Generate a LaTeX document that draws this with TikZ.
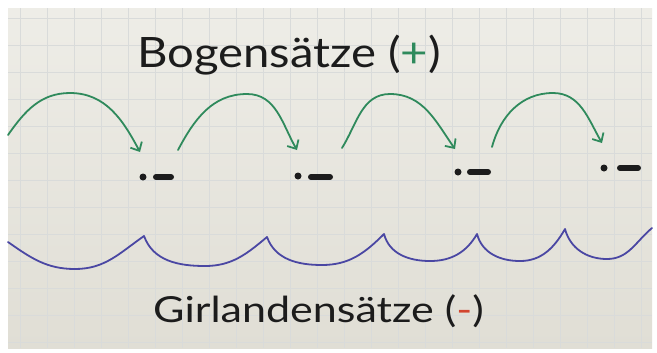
\documentclass[tikz,border=0pt]{standalone}
\usepackage{fontspec}
\setmainfont{Lato}
\usetikzlibrary{arrows.meta}
\definecolor{papertop}{HTML}{EEEDE7}
\definecolor{paperbot}{HTML}{E0DED5}
\definecolor{gridc}{HTML}{D9DBDA}
\definecolor{arcgreen}{HTML}{2F8A5C}
\definecolor{garblue}{HTML}{4A47A3}
\definecolor{inkc}{HTML}{1C1C1C}
\definecolor{minusred}{HTML}{D2452F}
\tikzset{
  greenarc/.style={draw=arcgreen, line width=1.8bp, line cap=round, -{Straight Barb[length=7bp,width=13bp,line width=1.8bp]}},
  garland/.style={draw=garblue, line width=1.8bp, line cap=round, line join=round},
  dotc/.style={circle, fill=inkc, inner sep=0pt, minimum size=7bp},
  dashbar/.style={draw=inkc, line width=6bp, line cap=round},
  lbl/.style={text=inkc, inner sep=0pt},
  gridline/.style={draw=gridc, line width=0.8bp}
}
\begin{document}
\begin{tikzpicture}[x=1bp,y=-1bp]
\useasboundingbox (0,0) rectangle (657,352);
\fill[white] (0,0) rectangle (657,352);
\shade[top color=papertop, bottom color=paperbot] (8,8) rectangle (652,348);
% grid
\foreach \gx in {20,47,...,650} { \draw[gridline] (\gx,8) -- (\gx,348); }
\foreach \gy in {18,45,...,348} { \draw[gridline] (8,\gy) -- (652,\gy); }
% titles
\node[lbl, anchor=base west, font=\fontsize{42}{48}\selectfont] (title) at (137,67) {\scalebox{1.13}[1]{Bogensätze (\textcolor{arcgreen}{+})}};
\node[lbl, anchor=base west, font=\fontsize{36}{42}\selectfont] (subtitle) at (153,322) {\scalebox{1.2}[1]{Girlandensätze (\textcolor{minusred}{-})}};
% arc coordinates
\coordinate (s1) at (8,135);   \coordinate (p1) at (70,93);  \coordinate (e1) at (140,152);
\coordinate (s2) at (178,150); \coordinate (p2) at (247,94); \coordinate (e2) at (297,150);
\coordinate (s3) at (342,148); \coordinate (p3) at (390,94); \coordinate (e3) at (455,149);
\coordinate (s4) at (492,147); \coordinate (p4) at (553,93); \coordinate (e4) at (602,143);
\draw[greenarc] (s1) to[out=55,in=180] (p1) to[out=0,in=118] (e1);
\draw[greenarc] (s2) to[out=62,in=180] (p2) to[out=0,in=120] (e2);
\draw[greenarc] (s3) to[out=58,in=180] (p3) to[out=0,in=125] (e3);
\draw[greenarc] (s4) to[out=75,in=180] (p4) to[out=0,in=120] (e4);
% dots and dashes
\node[dotc] (d1) at (143,177) {};
\coordinate (a1) at (156,177); \coordinate (b1) at (171,177);
\draw[dashbar] (a1) -- (b1);
\node[dotc] (d2) at (298,176) {};
\coordinate (a2) at (311,177); \coordinate (b2) at (330,177);
\draw[dashbar] (a2) -- (b2);
\node[dotc] (d3) at (458,172) {};
\coordinate (a3) at (470,172); \coordinate (b3) at (488,172);
\draw[dashbar] (a3) -- (b3);
\node[dotc] (d4) at (604,168) {};
\coordinate (a4) at (620,168); \coordinate (b4) at (638,168);
\draw[dashbar] (a4) -- (b4);
% garland
\coordinate (g0) at (8,242);
\coordinate (m1) at (75,269);  \coordinate (c1) at (144,236);
\coordinate (m2) at (205,266); \coordinate (c2) at (267,237);
\coordinate (m3) at (322,265); \coordinate (c3) at (384,234);
\coordinate (m4) at (430,261); \coordinate (c4) at (477,234);
\coordinate (m5) at (520,261); \coordinate (c5) at (565,229);
\coordinate (m6) at (607,259); \coordinate (g7) at (652,228);
\draw[garland] (g0) to[out=-35,in=180] (m1) to[out=0,in=-145] (c1)
  to[out=-70,in=180] (m2) to[out=0,in=-140] (c2)
  to[out=-70,in=180] (m3) to[out=0,in=-135] (c3)
  to[out=-75,in=180] (m4) to[out=0,in=-120] (c4)
  to[out=-75,in=180] (m5) to[out=0,in=-120] (c5)
  to[out=-75,in=180] (m6) to[out=0,in=-140] (g7);
\end{tikzpicture}
\end{document}
